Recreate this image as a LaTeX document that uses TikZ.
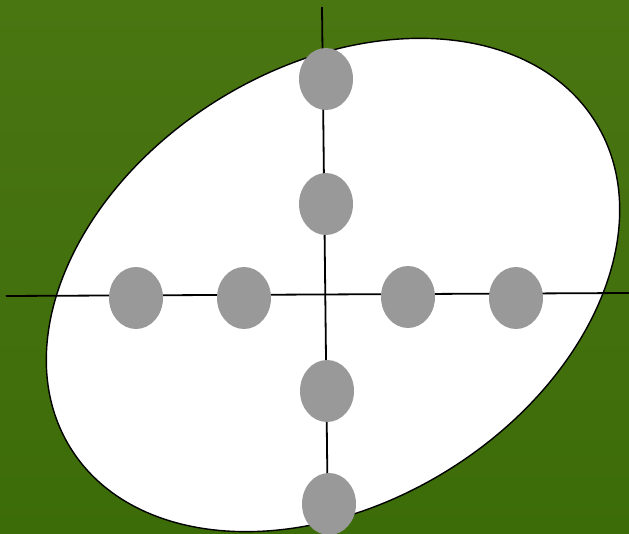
\documentclass[tikz,border=0pt]{standalone}
\usepackage{tikz}
\usetikzlibrary{shapes.geometric,calc}
\usepackage{xcolor}
\definecolor{grasstop}{HTML}{4A7612}
\definecolor{grassbot}{HTML}{3C6C08}
\definecolor{dotgray}{HTML}{999999}
\tikzset{field/.style={draw=black,line width=1.4pt,fill=white},
  axis/.style={draw=black,line width=1.8pt},
  dot/.style={ellipse,fill=dotgray,draw=none,inner sep=0pt,minimum width=54pt,minimum height=62pt}}
\begin{document}
\begin{tikzpicture}[x=1pt,y=-1pt]
    \useasboundingbox (0,0) rectangle (629,534);
    \shade[top color=grasstop,bottom color=grassbot] (0,0) rectangle (629,534);
    \draw[field,rotate around={31.8:(333,285)}] (333,285) ellipse (309 and 218);
    \coordinate (vtop) at (322,7);\coordinate (vbot) at (328,534);
    \coordinate (hleft) at (6,296);\coordinate (hright) at (629,293);
    \draw[axis] (vtop)--(vbot);\draw[axis] (hleft)--(hright);
    \foreach \n/\dx/\dy in {1/326/79,2/326/204,3/136/298,4/244/298,5/408/297,6/516/298,7/327/391,8/329/504}
      \node[dot] (p\n) at (\dx,\dy) {};
  \end{tikzpicture}
\end{document}
